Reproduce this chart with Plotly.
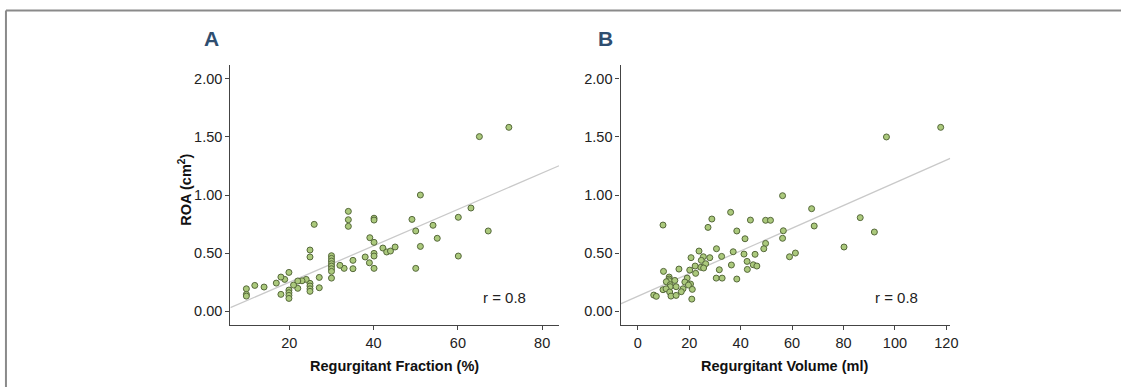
import numpy as np
import plotly.graph_objects as go

# ---- Panel A: Regurgitant Fraction (%) vs ROA (cm2) ----
rf_x = [51.1, 25.9, 34.0, 34.0, 34.0, 40.1, 40.1, 49.1, 50.0, 54.1, 55.1, 51.1, 50.0,
        39.1, 40.1, 42.2, 43.1, 44.0, 45.1, 40.1, 40.1, 38.0, 39.0, 40.1, 35.1, 35.1,
        33.0, 32.0,
        30.0, 30.0, 30.0, 30.0, 30.0, 30.0, 30.0, 30.0,
        24.9, 24.9, 27.1, 27.1,
        24.9, 24.9, 24.9, 24.9,
        24.0, 23.0, 22.0, 22.0, 21.0, 19.9, 18.9, 18.0, 16.9,
        19.9, 19.9, 19.9, 19.9,
        18.0, 14.0, 11.8,
        9.8, 9.8, 9.8,
        67.2, 63.1, 60.1, 60.1, 65.1, 72.1]
rf_y = [1.00, 0.747, 0.859, 0.787, 0.730, 0.80, 0.784, 0.79, 0.69, 0.739, 0.627, 0.557, 0.368,
        0.632, 0.592, 0.543, 0.509, 0.517, 0.552, 0.497, 0.474, 0.466, 0.416, 0.368, 0.437, 0.365,
        0.368, 0.394,
        0.477, 0.454, 0.431, 0.408, 0.388, 0.365, 0.342, 0.284,
        0.526, 0.466, 0.290, 0.201,
        0.239, 0.216, 0.192, 0.170,
        0.273, 0.261, 0.259, 0.196, 0.224, 0.333, 0.273, 0.293, 0.241,
        0.181, 0.158, 0.135, 0.109,
        0.144, 0.207, 0.221,
        0.192, 0.144, 0.129,
        0.69, 0.888, 0.808, 0.474, 1.503, 1.583]

# ---- Panel B: Regurgitant Volume (ml) vs ROA (cm2) ----
rv_x = [56.3, 67.6, 68.6, 9.8, 36.1, 28.8, 27.3, 43.8, 49.7, 51.6, 38.5, 56.6, 56.3, 41.7,
        49.7, 49.0, 61.3, 59.0, 30.6, 37.1, 23.8, 25.5, 24.7, 20.7, 28.0, 32.6, 41.3, 45.6,
        42.5, 44.9, 46.3, 42.6, 36.4, 31.7, 30.5, 32.8, 38.5, 26.4, 24.5, 25.6, 22.3, 20.2,
        22.5, 16.0, 10.0, 19.2, 12.2, 12.2, 12.2, 11.1, 14.4, 18.3, 20.5, 19.7, 12.6, 12.6,
        9.8, 11.0, 14.9, 17.6, 21.2, 16.9, 12.4, 12.9, 14.9, 6.2, 7.2, 21.0,
        96.7, 117.8, 86.5, 92.0, 80.2]
rv_y = [0.994, 0.882, 0.733, 0.741, 0.851, 0.793, 0.721, 0.784, 0.782, 0.782, 0.690, 0.692,
        0.627, 0.623, 0.583, 0.537, 0.50, 0.468, 0.537, 0.511, 0.517, 0.468, 0.437, 0.460,
        0.460, 0.471, 0.491, 0.489, 0.428, 0.399, 0.388, 0.359, 0.397, 0.356, 0.284, 0.284,
        0.276, 0.408, 0.377, 0.371, 0.388, 0.353, 0.325, 0.362, 0.342, 0.284, 0.293, 0.276,
        0.261, 0.253, 0.264, 0.25, 0.233, 0.224, 0.227, 0.210, 0.184, 0.192, 0.21, 0.192,
        0.187, 0.167, 0.164, 0.129, 0.135, 0.138, 0.127, 0.103,
        1.50, 1.583, 0.805, 0.681, 0.552]

r_text = "r = 0.8"
xtitle_a = "Regurgitant Fraction (%)"
xtitle_b = "Regurgitant Volume (ml)"
ytitle = "ROA (cm<sup>2</sup>)"
y_ticks = [0.0, 0.5, 1.0, 1.5, 2.0]
xa_ticks = [20, 40, 60, 80]
xb_ticks = [0, 20, 40, 60, 80, 100, 120]

W, H = 1129, 387
XA_RANGE = [6.0, 84.0]
XB_RANGE = [-6.7, 121.5]
Y_RANGE = [-0.12, 2.12]

def px(v):
    return v / W

def py(v):
    return 1 - v / H

marker = dict(size=6, color="#abc97c", line=dict(color="#55683a", width=1))
line_style = dict(color="#c9c9c9", width=1.3)

fig = go.Figure()

for xs, ys, xr, xa, ya in [(rf_x, rf_y, XA_RANGE, "x", "y"), (rv_x, rv_y, XB_RANGE, "x2", "y2")]:
    k, b = np.polyfit(np.array(xs), np.array(ys), 1)
    lx = np.array(xr)
    fig.add_trace(go.Scatter(x=lx, y=k * lx + b, mode="lines", line=line_style,
                             xaxis=xa, yaxis=ya, hoverinfo="skip", showlegend=False))
    fig.add_trace(go.Scatter(x=xs, y=ys, mode="markers", marker=marker,
                             xaxis=xa, yaxis=ya, showlegend=False))

axis_common = dict(showgrid=False, zeroline=False, showline=True, linecolor="#444",
                   linewidth=1.3, ticks="outside", ticklen=4, tickcolor="#444",
                   tickfont=dict(family="Liberation Sans, Arial", size=14.5, color="#222"))

fig.update_layout(
    width=W, height=H,
    margin=dict(l=0, r=0, t=0, b=0),
    paper_bgcolor="white", plot_bgcolor="white",
    xaxis=dict(domain=[px(232), px(563)], range=XA_RANGE, tickvals=xa_ticks,
               anchor="y", **axis_common),
    yaxis=dict(domain=[py(325), py(65)], range=Y_RANGE, tickvals=y_ticks,
               tickformat=".2f", anchor="x", **axis_common),
    xaxis2=dict(domain=[px(625), px(957)], range=XB_RANGE, tickvals=xb_ticks,
                anchor="y2", **axis_common),
    yaxis2=dict(domain=[py(325), py(65)], range=Y_RANGE, tickvals=y_ticks,
                tickformat=".2f", anchor="x2", **axis_common),
    font=dict(family="Liberation Sans, Arial"),
)

# frame lines
fig.add_shape(type="line", xref="paper", yref="paper", x0=px(6), x1=1.0, y0=py(10.5), y1=py(10.5),
              line=dict(color="#8a8a8a", width=2))
fig.add_shape(type="line", xref="paper", yref="paper", x0=px(6), x1=px(6), y0=py(10.5), y1=0,
              line=dict(color="#8a8a8a", width=2))

title_font = dict(family="Liberation Sans, Arial", size=21, color="#2f4e70")
lab_font = dict(family="Liberation Sans, Arial", size=14.5, color="#111")
ann = [
    dict(text="<b>A</b>", x=px(213), y=py(39), font=title_font),
    dict(text="<b>B</b>", x=px(610), y=py(39), font=title_font),
    dict(text="<b>" + xtitle_a + "</b>", x=px(397), y=py(366), font=lab_font),
    dict(text="<b>" + xtitle_b + "</b>", x=px(790), y=py(366), font=lab_font),
    dict(text="<b>" + ytitle + "</b>", x=px(186), y=py(190), font=lab_font, textangle=-90),
    dict(text=r_text, x=px(508), y=py(297), font=dict(family="Liberation Sans, Arial", size=15, color="#222")),
    dict(text=r_text, x=px(903), y=py(297), font=dict(family="Liberation Sans, Arial", size=15, color="#222")),
]
for a in ann:
    fig.add_annotation(xref="paper", yref="paper", showarrow=False,
                       xanchor="center", yanchor="middle", **a)

fig.write_html("out.html")
